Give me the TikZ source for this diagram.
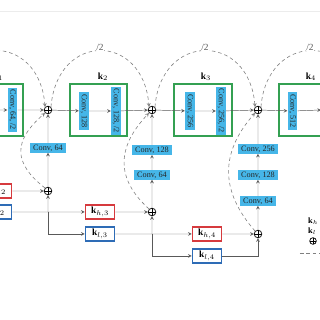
\documentclass[tikz,border=0pt]{standalone}
\usepackage{fontspec}
\setmainfont{Liberation Serif}
\usepackage{amsmath}
\definecolor{stagegreen}{RGB}{52,160,82}
\definecolor{convblue}{RGB}{70,182,232}
\definecolor{khred}{RGB}{214,58,62}
\definecolor{klblue}{RGB}{46,108,182}

\begin{document}
\begin{tikzpicture}[scale=0.03]
\tikzstyle{every node}+=[inner sep=0pt, font=\fontsize{7}{8}\selectfont]
\tikzstyle{stage}=[draw=stagegreen, line width=1.1pt, minimum height=1.56cm]
\tikzstyle{convv}=[fill=convblue, text=black!85, rotate=-90, inner xsep=1.5pt, inner ysep=1.3pt]
\tikzstyle{convh}=[fill=convblue, text=black!85, inner xsep=3pt, inner ysep=1pt]
\tikzstyle{adder}=[draw, circle, line width=0.6pt, minimum size=2.3mm, path picture={\draw (path picture bounding box.north) -- (path picture bounding box.south) (path picture bounding box.west) -- (path picture bounding box.east);}]
\tikzstyle{khbox}=[draw=khred, line width=1pt, minimum width=0.88cm, minimum height=0.42cm, font=\fontsize{8}{9}\selectfont]
\tikzstyle{klbox}=[draw=klblue, line width=1pt, minimum width=0.88cm, minimum height=0.42cm, font=\fontsize{8}{9}\selectfont]
\tikzstyle{flow}=[black!65, -stealth]
\tikzstyle{half}=[black!50, line width=0.5pt, dash pattern=on 3pt off 2.5pt, -stealth]
\tikzstyle{halflabel}=[fill=white, text=black!65, inner sep=0.6pt, font=\fontsize{8}{9}\selectfont]
\tikzstyle{stagelabel}=[font=\fontsize{8}{9}\selectfont]
\useasboundingbox[fill=white] (0,0) rectangle (320,-320);
\draw[gray!15] (0,-11) -- (320,-11);
\node[stage, minimum width=1.59cm] (g1) at (-3.5,-110) {};
\node[stage, minimum width=1.71cm] (g2) at (98.5,-110) {};
\node[stage, minimum width=1.74cm] (g3) at (203,-110) {};
\node[stage, minimum width=1.83cm] (g4) at (309.5,-110) {};
\node[stagelabel] (k1) at (-2,-77) {$\mathbf{k}_1$};
\node[stagelabel] (k2) at (103,-77) {$\mathbf{k}_2$};
\node[stagelabel] (k3) at (206,-77) {$\mathbf{k}_3$};
\node[stagelabel] (k4) at (311,-77) {$\mathbf{k}_4$};
\node[convv] (c11) at (12.5,-110) {Conv, 64, /2};
\node[convv] (c21) at (84,-111) {Conv, 128};
\node[convv] (c22) at (116,-111) {Conv, 128, /2};
\node[convv] (c31) at (190,-111) {Conv, 256};
\node[convv] (c32) at (221,-111) {Conv, 256, /2};
\node[convv] (c41) at (292.5,-111) {Conv, 512};
\node[adder] (a1) at (48,-110) {};
\node[adder] (a2) at (152,-110) {};
\node[adder] (a3) at (258,-110) {};
\coordinate (a0) at (-54,-107);
\coordinate (a4) at (361,-107);
\coordinate (src) at (-5,-110);
\coordinate (snk) at (321,-110);
\node[adder] (b1) at (48,-191) {};
\node[adder] (b2) at (152,-212) {};
\node[adder] (b3) at (258,-234) {};
\node[convh] (u11) at (48,-148) {Conv, 64};
\node[convh] (u21) at (152,-175) {Conv, 64};
\node[convh] (u22) at (152,-150) {Conv, 128};
\node[convh] (u31) at (258,-201) {Conv, 64};
\node[convh] (u32) at (258,-175) {Conv, 128};
\node[convh] (u33) at (258,-149) {Conv, 256};
\node[khbox] (kh2) at (-3,-191) {$\mathbf{k}_{h,2}$};
\node[klbox] (kl2) at (-3,-212) {$\mathbf{k}_{l,2}$};
\node[khbox] (kh3) at (100,-212) {$\mathbf{k}_{h,3}$};
\node[klbox] (kl3) at (100,-234) {$\mathbf{k}_{l,3}$};
\node[khbox] (kh4) at (207,-234) {$\mathbf{k}_{h,4}$};
\node[klbox] (kl4) at (207,-256) {$\mathbf{k}_{l,4}$};
\draw[flow] (src) -- (c11);
\draw[flow] (c11) -- (a1);
\draw[flow] (a1) -- (c21);
\draw[flow] (c21) -- (c22);
\draw[flow] (c22) -- (a2);
\draw[flow] (a2) -- (c31);
\draw[flow] (c31) -- (c32);
\draw[flow] (c32) -- (a3);
\draw[flow] (a3) -- (c41);
\draw[flow] (c41) -- (snk);
\draw[flow] (b1) -- (u11);
\draw[flow] (u11) -- (a1);
\draw[flow] (b2) -- (u21);
\draw[flow] (u21) -- (u22);
\draw[flow] (u22) -- (a2);
\draw[flow] (b3) -- (u31);
\draw[flow] (u31) -- (u32);
\draw[flow] (u32) -- (u33);
\draw[flow] (u33) -- (a3);
\draw[flow] (kh2) -- (b1);
\draw[flow] (kl2) -- (kh3);
\draw[flow] (kl2 -| b1) -- (b1);
\draw[flow] (kl2 -| b1) |- (kl3);
\draw[flow] (kh3) -- (b2);
\draw[flow] (kl3) -- (kh4);
\draw[flow] (kl3 -| b2) -- (b2);
\draw[flow] (kl3 -| b2) |- (kl4);
\draw[flow] (kh4) -- (b3);
\draw[flow] (kl4) -| (b3);
\draw[half] (a0) .. controls +(6,75) and +(-6,75) .. (a1.north west);
\draw[half] (a1.north east) .. controls +(6,75) and +(-6,75) .. (a2.north west);
\draw[half] (a2.north east) .. controls +(6,75) and +(-6,75) .. (a3.north west);
\draw[half] (a3.north east) .. controls +(6,75) and +(-6,75) .. (a4);
\draw[half] (b1.north west) .. controls +(-32,25) and +(-32,-28) .. (a1.south west);
\draw[half] (b2.north west) .. controls +(-33,30) and +(-33,-35) .. (a2.south west);
\draw[half] (b3.north west) .. controls +(-35,40) and +(-35,-40) .. (a3.south west);
\node[halflabel] (h2) at (100,-47) {/2};
\node[halflabel] (h3) at (205,-47) {/2};
\node[halflabel] (h4) at (310,-47) {/2};
\node[anchor=west] (lh) at (308,-221) {$\mathbf{k}_h$};
\node[anchor=west] (ll) at (308,-231) {$\mathbf{k}_l$};
\node[adder, minimum size=2mm] (lsum) at (313,-241) {};
\coordinate (ld1) at (300,-253);
\coordinate (ld2) at (322,-253);
\draw[black!50, dash pattern=on 3pt off 2.5pt] (ld1) -- (ld2);
\end{tikzpicture}
\end{document}
